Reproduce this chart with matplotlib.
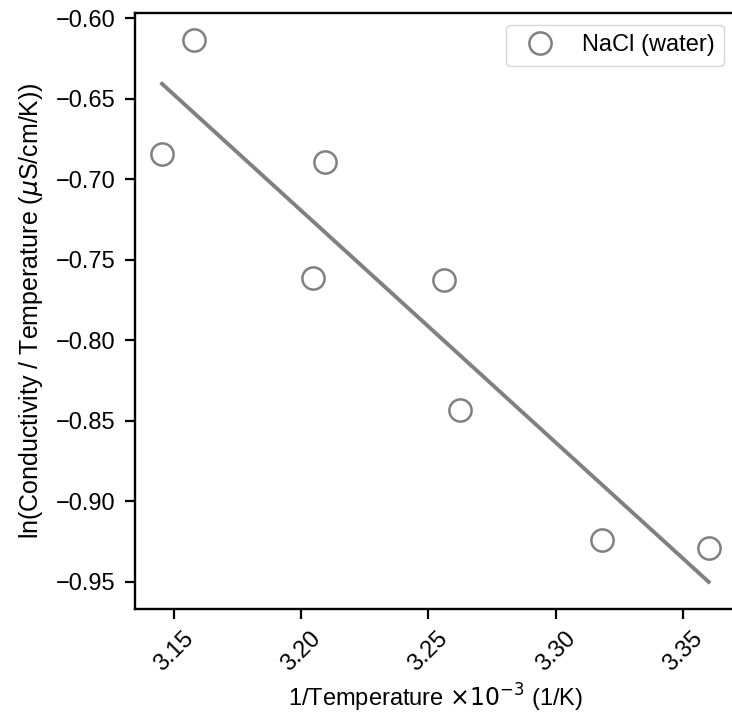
import matplotlib
matplotlib.use('Agg')
import matplotlib.pyplot as plt
import numpy as np

# inverse temperature (x1000, 1/K) and ln(conductivity / temperature)
inv_temperature = [3.1453, 3.1579, 3.2093, 3.2046, 3.2560, 3.2623, 3.3181, 3.3601]
ln_cond_temp = [-0.6844, -0.6137, -0.6894, -0.7613, -0.7626, -0.8433, -0.9240, -0.9289]
series_label = 'NaCl (water)'

plt.rcParams['font.family'] = ['Liberation Sans', 'DejaVu Sans']
plt.rcParams['mathtext.fontset'] = 'dejavusans'

x = np.array(inv_temperature)
y = np.array(ln_cond_temp)

# linear fit over the measured range
k, b = np.polyfit(x, y, 1)
x_fit = np.array([x.min(), x.max()])
y_fit = k*x_fit + b

#
fig = plt.figure(figsize=(7.32, 7.17), dpi=100)
ax = fig.add_axes([0.184, 0.1506, 0.8215, 0.8312])

ax.plot(
    x, y,
    linestyle='none', marker='o', markersize=16,
    markerfacecolor='none', markeredgecolor='gray', markeredgewidth=1.8,
    label=series_label,
)
ax.plot(x_fit, y_fit, color='gray', linewidth=2.8)

ax.set_xticks([3.15, 3.20, 3.25, 3.30, 3.35])
ax.set_yticks(np.arange(-0.95, -0.599, 0.05))
ax.xaxis.set_major_formatter(matplotlib.ticker.FormatStrFormatter('%.2f'))
ax.yaxis.set_major_formatter(matplotlib.ticker.FuncFormatter(lambda v, _: f'\u2212{abs(v):.2f}'))
ax.tick_params(axis='both', labelsize=17, length=7.5, width=1.6, pad=6)
plt.setp(ax.get_xticklabels(), rotation=45)

for spine in ax.spines.values():
    spine.set_linewidth(1.7)

ax.set_xlabel(r'1/Temperature $\times 10^{-3}$ (1/K)', fontsize=17, labelpad=4)
ax.set_ylabel(r'ln(Conductivity / Temperature ($\mu$S/cm/K))', fontsize=18, labelpad=8)

ax.legend(loc='upper right', fontsize=17)

fig.savefig('out.png', dpi=100)
